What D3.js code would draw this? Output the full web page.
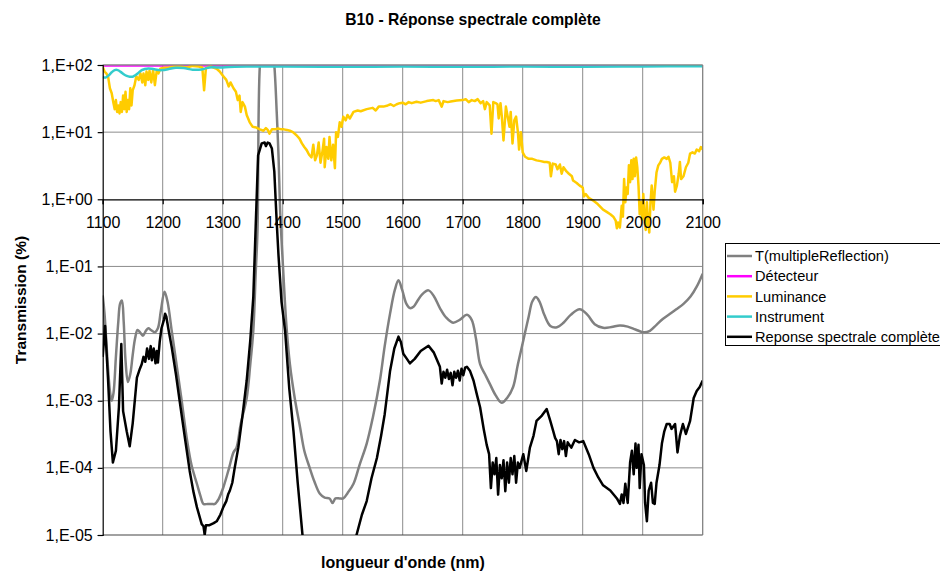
<!DOCTYPE html>
<html><head><meta charset="utf-8">
<script src="https://cdn.jsdelivr.net/npm/d3@7"></script>
<style>body{margin:0;background:#fff;} text{font-family:"Liberation Sans",Arial,sans-serif;}</style>
</head><body>
<svg id="c" width="940" height="571"></svg>
<script>
// ---- data ----
const xTicks = [1100,1200,1300,1400,1500,1600,1700,1800,1900,2000,2100];
const yTicks = [1e2,1e1,1e0,1e-1,1e-2,1e-3,1e-4,1e-5];
const yTickLabels = ["1,E+02","1,E+01","1,E+00","1,E-01","1,E-02","1,E-03","1,E-04","1,E-05"];
const seriesNames = ["T(multipleReflection)","Détecteur","Luminance","Instrument","Reponse spectrale complète"];

const tX = [1100,1103,1108,1112,1115,1118,1122,1126,1129,1132,1135,1138,1142,1146,1150,1154,1158,1162,1167,1172,1176,1181,1187,1192,1197,1203,1208,1215,1223,1231,1240,1248,1257,1263,1268,1275,1282,1287,1293,1301,1310,1318,1323,1330,1340,1346,1351,1355,1358,1362,1368,1374,1380,1386,1390,1393,1396,1400,1406,1412,1420,1429,1436,1445,1453,1462,1470,1478,1483,1488,1495,1501,1508,1518,1528,1540,1550,1562,1570,1579,1587,1593,1599,1606,1612,1618,1625,1632,1643,1652,1662,1672,1684,1695,1707,1715,1722,1729,1737,1745,1755,1765,1774,1784,1792,1801,1810,1816,1822,1828,1836,1846,1857,1868,1880,1895,1908,1920,1934,1948,1962,1975,1988,2001,2012,2023,2034,2045,2056,2068,2080,2090,2100];
const tY = [0.037,0.02,0.004,0.0014,0.001,0.0013,0.0045,0.015,0.028,0.031,0.015,0.004,0.0019,0.0025,0.0048,0.0085,0.0113,0.0105,0.0093,0.011,0.012,0.0112,0.0105,0.012,0.022,0.042,0.03,0.011,0.0035,0.0011,0.00028,0.00011,0.000058,0.000038,0.000029,0.000029,0.000029,0.000029,0.000034,0.000051,0.000095,0.00017,0.0002,0.00045,0.0011,0.0035,0.011,0.08,0.34,100,300,400,300,100,20,4.5,0.6,0.12,0.014,0.0035,0.0011,0.0004,0.00018,0.0001,0.000062,0.000041,0.000036,0.000035,0.00003,0.000035,0.000035,0.000035,0.000042,0.000058,0.00011,0.00023,0.00055,0.002,0.0065,0.02,0.045,0.062,0.045,0.028,0.024,0.025,0.031,0.038,0.044,0.036,0.024,0.0175,0.0145,0.016,0.019,0.016,0.0085,0.0035,0.0025,0.0018,0.0012,0.00093,0.0011,0.0016,0.0035,0.0079,0.018,0.03,0.035,0.03,0.019,0.013,0.0124,0.0145,0.019,0.023,0.019,0.0138,0.0122,0.0125,0.0132,0.0127,0.0115,0.0105,0.011,0.0135,0.0166,0.0195,0.023,0.0277,0.036,0.05,0.078];

const dX = [1100,1400,1700,2100];
const dY = [97,97,97,97];

const lX = [1100,1103,1106,1109,1112,1115,1118,1120,1122,1124,1126,1128,1130,1132,1134,1136,1138,1140,1142,1144,1146,1148,1150,1153,1156,1160,1163,1166,1168,1171,1173,1176,1178,1181,1184,1187,1190,1193,1196,1200,1210,1220,1230,1240,1250,1260,1266,1269,1272,1280,1290,1295,1300,1306,1310,1313,1318,1322,1325,1328,1330,1333,1337,1340,1345,1350,1356,1362,1368,1372,1375,1378,1382,1387,1392,1398,1402,1407,1412,1417,1423,1428,1432,1436,1440,1444,1448,1451,1454,1457,1460,1463,1466,1469,1470,1473,1476,1478,1481,1484,1487,1489,1492,1495,1498,1501,1505,1508,1512,1518,1525,1530,1540,1550,1555,1560,1568,1575,1580,1585,1590,1595,1600,1605,1610,1615,1623,1630,1640,1651,1655,1660,1665,1668,1675,1680,1690,1700,1705,1710,1715,1720,1725,1730,1734,1737,1740,1745,1748,1751,1755,1758,1760,1763,1765,1768,1772,1775,1778,1780,1783,1786,1789,1792,1794,1797,1800,1804,1810,1816,1823,1830,1836,1840,1845,1847,1850,1855,1858,1862,1865,1868,1873,1877,1882,1884,1890,1895,1900,1902,1905,1910,1918,1925,1934,1940,1946,1951,1955,1957,1959,1962,1965,1967,1969,1971,1973,1975,1977,1979,1981,1983,1985,1987,1989,1991,1993,1995,1997,1999,2001,2003,2005,2007,2009,2011,2013,2015,2018,2020,2023,2026,2029,2032,2036,2040,2043,2046,2049,2052,2054,2057,2060,2062,2064,2068,2072,2076,2079,2083,2087,2090,2094,2097,2100];
const lY = [94,80,75,67,45,38,27,22,30,20,25,19,28,20,35,22,40,20,30,22,45,25,42,50,68,60,75,55,75,50,80,60,82,55,85,50,82,75,88,90,92,95,95,92,97,95,92,42,90,95,88,80,70,60,48,55,45,40,30,35,20,28,24,18,14,12,11.7,11,10.5,11.5,10.8,9.5,11,11,11.3,11,11,10.8,10.5,10,9,8,6.8,6,5.4,4.6,4.2,6.5,3.8,4.5,7,3.5,5,8,3,6,4,8.5,3.8,6.5,2.9,10,8.5,14,12,17,15,18,16,20,21,20.5,22,23,21,24,24,25,26,24.5,26,27,27.5,26,28,27,28.4,27.5,29,30,29,30,24,29,28,28.5,29.5,30,31,28,30,29,31,27,29,22,28,25,9.5,28,27,26,16,27,18,7.5,24,17,12,20,6.8,15,17,10,5.5,10,5,4.3,4,4,3.8,3.7,3.6,3.6,3.5,2.2,3.4,3.3,2.8,3.3,2.4,3,2.6,2.4,2.2,1.9,1.75,1.6,1.5,1.1,1.2,1.05,0.95,0.85,0.7,0.65,0.6,0.55,0.48,0.37,0.45,0.38,0.8,0.55,2,0.9,1.5,1.2,3.2,1.8,3.8,2,4,2.2,4.2,3,1.6,0.6,0.9,0.5,1.2,0.55,0.35,0.9,0.45,0.32,0.9,1.6,0.7,1.3,2.5,3.2,3.5,4,4.2,4,4.3,3.5,1.8,2.2,1.3,1.6,2.4,3.6,2,2.2,3,3.5,4.8,5,4.8,5.5,5.2,6,5.5];

const iX = [1100,1105,1110,1115,1120,1125,1130,1135,1140,1145,1150,1155,1160,1165,1170,1176,1182,1188,1194,1200,1210,1222,1235,1250,1265,1278,1290,1300,1320,1340,1400,1500,1600,1700,1800,1900,2000,2100];
const iY = [66,65,70,78,84,84,79,73,69,67,67,71,77,84,87,89,88,86,84,84,87,91,90,85,86,92,92,92,94,95,95,94,95,94,95,94,95,96];

const rX = [1100,1104,1109,1113,1117,1122,1127,1131,1134,1140,1145,1150,1157,1162,1165,1168,1171,1174,1177,1180,1182,1185,1188,1190,1192,1195,1198,1202,1204,1206,1210,1215,1222,1229,1237,1245,1251,1257,1265,1268,1270,1272,1278,1285,1290,1296,1301,1306,1309,1312,1316,1320,1326,1333,1340,1346,1351,1355,1359,1365,1370,1372,1375,1378,1382,1386,1390,1393,1398,1404,1411,1418,1425,1433,1440,1470,1500,1515,1523,1532,1540,1548,1557,1564,1570,1579,1586,1593,1597,1601,1607,1612,1620,1630,1643,1652,1662,1665,1668,1671,1674,1677,1680,1683,1686,1689,1692,1695,1698,1701,1704,1707,1712,1718,1724,1729,1735,1740,1744,1747,1750,1753,1756,1759,1762,1765,1768,1771,1774,1777,1780,1783,1786,1789,1792,1795,1801,1806,1812,1818,1823,1832,1840,1846,1851,1854,1857,1860,1863,1866,1869,1872,1875,1881,1887,1894,1901,1910,1918,1926,1934,1946,1957,1962,1965,1968,1971,1975,1979,1982,1985,1988,1990,1993,1995,1998,2002,2004,2007,2010,2014,2017,2020,2023,2028,2032,2036,2040,2045,2048,2054,2058,2062,2067,2072,2079,2085,2090,2095,2100];
const rY = [0.0045,0.013,0.002,0.00035,0.00012,0.00018,0.0008,0.007,0.0007,0.00035,0.00021,0.00046,0.0022,0.003,0.0035,0.0045,0.0038,0.006,0.0042,0.0065,0.004,0.006,0.0036,0.0055,0.0037,0.0075,0.012,0.016,0.0197,0.018,0.011,0.0063,0.0025,0.00089,0.00028,0.00009,0.000045,0.000026,0.0000145,0.0000135,0.00001,0.000014,0.000014,0.000015,0.000016,0.00002,0.000026,0.000032,0.00004,0.000046,0.00006,0.0001,0.0002,0.0006,0.002,0.008,0.035,0.4,4.5,6.8,7,6.2,7,6.8,5.7,2.6,0.46,0.146,0.03,0.011,0.0015,0.00035,0.00006,0.00001,0.000002,0.0000003,0.0000002,0.000002,0.00001,0.00002,0.000032,0.00007,0.00014,0.0003,0.00063,0.0028,0.006,0.009,0.0075,0.005,0.0042,0.0036,0.0042,0.0055,0.0066,0.0052,0.0032,0.0018,0.0027,0.0022,0.0029,0.0021,0.0026,0.0017,0.0027,0.0022,0.0028,0.002,0.003,0.0024,0.0031,0.0032,0.0028,0.002,0.0012,0.0008,0.00038,0.00022,0.00016,0.00005,0.00012,0.00008,0.00014,0.00004,0.00011,0.00007,0.00013,0.000045,0.00012,0.00006,0.00014,0.00008,0.00015,0.00006,0.00012,0.0001,0.00016,0.00009,0.0002,0.0003,0.0005,0.0006,0.00075,0.0005,0.00035,0.00028,0.00025,0.00016,0.00026,0.00019,0.00025,0.00015,0.00024,0.0002,0.00026,0.00024,0.00025,0.00016,0.0001,0.000072,0.000055,0.000046,0.000035,0.000029,0.00004,0.00003,0.000058,0.00003,0.00012,0.00018,0.00008,0.00023,0.0001,0.00022,0.00005,0.00016,0.00011,0.00003,0.000016,0.000046,0.00006,0.00003,0.000029,0.00006,0.00011,0.00023,0.00035,0.00045,0.00045,0.00038,0.00045,0.00017,0.0003,0.00045,0.00032,0.0005,0.0011,0.0014,0.0016,0.002,0.0026];

// ---- chart ----
const FONT = "'Liberation Sans',Arial,sans-serif";
const svg = d3.select("#c");
const L = 102.7, R = 702.7, T = 65, B = 535;
const x = d3.scaleLinear().domain([1100,2100]).range([L,R]);
const y = d3.scaleLog().domain([1e-5,1e2]).range([B,T]);

svg.append("defs").append("clipPath").attr("id","clip")
  .append("rect").attr("x",L).attr("y",T).attr("width",R-L).attr("height",B-T);

// grid
const g = svg.append("g");
g.selectAll(".vg").data(xTicks.slice(1)).enter().append("line")
  .attr("x1",d=>x(d)).attr("x2",d=>x(d)).attr("y1",T).attr("y2",B)
  .attr("stroke","#8c8c8c").attr("stroke-width",1);
g.selectAll(".hg").data(yTicks.filter(d=>d!==1 && d!==1e-5)).enter().append("line")
  .attr("x1",L).attr("x2",R).attr("y1",d=>y(d)).attr("y2",d=>y(d))
  .attr("stroke","#8c8c8c").attr("stroke-width",1);
g.append("line").attr("x1",L).attr("x2",R).attr("y1",B).attr("y2",B).attr("stroke","#444").attr("stroke-width",1.2);

// series
const plot = svg.append("g").attr("clip-path","url(#clip)");
function draw(xs, ys, color, w, curve){
  const pts = xs.map((d,i)=>[d, ys[i]]);
  const line = d3.line().x(d=>x(d[0])).y(d=>y(Math.max(d[1],1e-9))).curve(curve||d3.curveLinear);
  plot.append("path").attr("d", line(pts)).attr("fill","none")
    .attr("stroke", color).attr("stroke-width", w).attr("stroke-linejoin","round");
}
const colors = ["#808080","#FF00FF","#FFCC00","#33CCCC","#000000"];
draw(tX,tY,colors[0],2.5,d3.curveCatmullRom.alpha(0.5));
draw(dX,dY,colors[1],1.5);
draw(lX,lY,colors[2],2.5);
draw(iX,iY,colors[3],2.5,d3.curveCatmullRom.alpha(0.5));
draw(rX,rY,colors[4],2.5);

// border top/right
svg.append("line").attr("x1",L).attr("x2",R).attr("y1",T).attr("y2",T).attr("stroke","#808080");
svg.append("line").attr("x1",R).attr("x2",R).attr("y1",T).attr("y2",B).attr("stroke","#808080");

// y axis
const ya = d3.axisLeft(y).tickValues(yTicks).tickSize(5).tickPadding(5)
  .tickFormat(d=>yTickLabels[yTicks.indexOf(d)]);
const yg = svg.append("g").attr("transform",`translate(${L},0)`).call(ya);
yg.selectAll("text").attr("font-size","16px").attr("fill","#000").style("font-family",FONT);
yg.selectAll("line,path").attr("stroke","#000").attr("stroke-width",1.2);

// x axis at y=1
const xa = d3.axisBottom(x).tickValues(xTicks).tickSize(5).tickPadding(12).tickFormat(d3.format("d"));
const xg = svg.append("g").attr("transform",`translate(0,${y(1)})`).call(xa);
xg.selectAll("text").attr("font-size","16px").attr("fill","#000").style("font-family",FONT);
xg.selectAll("line,path").attr("stroke","#000").attr("stroke-width",1.2);

// titles
svg.append("text").attr("x",473).attr("y",25).attr("text-anchor","middle")
  .attr("font-size","15.7px").attr("font-weight","bold").text("B10 - Réponse spectrale complète");
svg.append("text").attr("transform","translate(26,300) rotate(-90)").attr("text-anchor","middle")
  .attr("font-size","15.5px").attr("font-weight","bold").text("Transmission (%)");
svg.append("text").attr("x",403).attr("y",568).attr("text-anchor","middle")
  .attr("font-size","16px").attr("font-weight","bold").text("longueur d'onde (nm)");

// legend
const lg = svg.append("g");
lg.append("rect").attr("x",725.5).attr("y",243.5).attr("width",230).attr("height",102)
  .attr("fill","#fff").attr("stroke","#000");
seriesNames.forEach((n,i)=>{
  const yy = 256 + i*20.2;
  lg.append("line").attr("x1",727).attr("x2",752).attr("y1",yy).attr("y2",yy)
    .attr("stroke",colors[i]).attr("stroke-width",2.5);
  lg.append("text").attr("x",755).attr("y",yy+5.2).attr("font-size","14.6px").text(n);
});
</script>
</body></html>
